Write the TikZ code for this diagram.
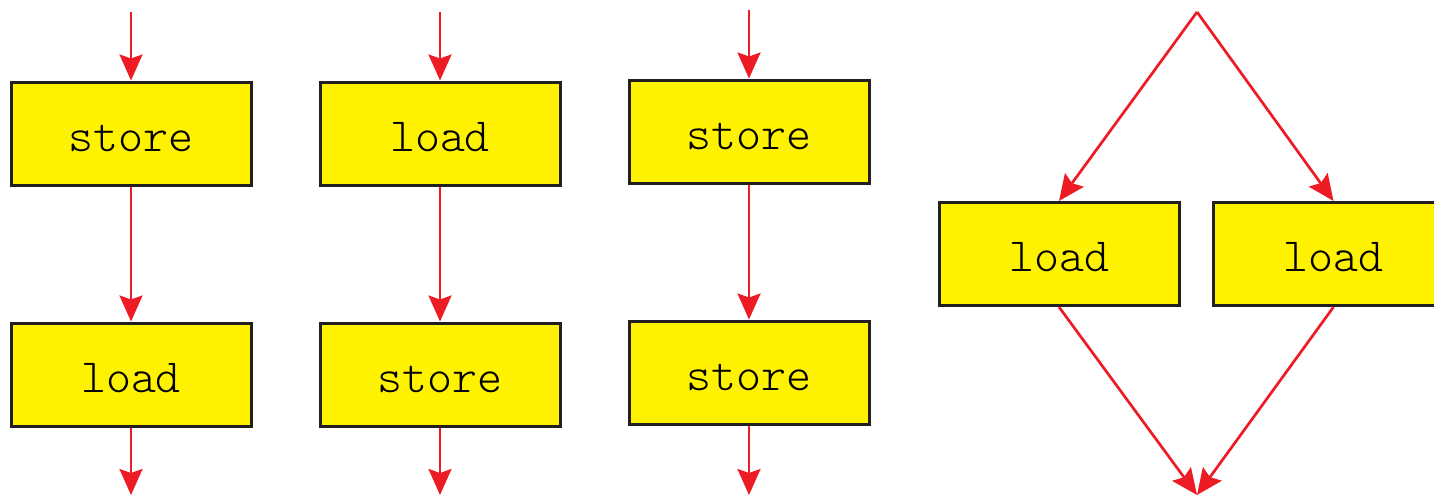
\documentclass[tikz,border=0pt]{standalone}
\usepackage{fontspec}
\newfontfamily\lightmono{Latin Modern Mono Light}
\usetikzlibrary{arrows.meta}
\definecolor{arrred}{RGB}{237,28,36}
\definecolor{boxyellow}{RGB}{255,242,0}
\definecolor{boxline}{RGB}{35,31,32}
\tikzset{
  opbox/.style={draw=boxline, fill=boxyellow, line width=3pt, rectangle,
    minimum width=240pt, minimum height=103pt, inner sep=0pt,
    text height=35pt, text depth=0pt,
    font=\fontsize{47.6}{54}\selectfont\lightmono},
  flow/.style={draw=arrred, line width=2.7pt,
    -{Stealth[length=26pt,width=23pt,inset=4pt]}}
}
\begin{document}
\begin{tikzpicture}[x=1pt,y=-1pt]
\useasboundingbox (0,0) rectangle (1434,496);
% column 1
\coordinate (s1) at (131,12);
\coordinate (e1) at (131,495);
\node[opbox] (a1) at (131,133.5) {store};
\node[opbox] (b1) at (131,374.5) {load};
% column 2
\coordinate (s2) at (440,12);
\coordinate (e2) at (440,495);
\node[opbox] (a2) at (440,133.5) {load};
\node[opbox] (b2) at (440,374.5) {store};
% column 3
\coordinate (s3) at (749,10);
\coordinate (e3) at (749,495);
\node[opbox] (a3) at (749,131.5) {store};
\node[opbox] (b3) at (749,372.5) {store};
% right
\coordinate (top) at (1197,12);
\coordinate (bot) at (1197,495);
\node[opbox] (L) at (1059,254) {load};
\node[opbox] (R) at (1333.5,254) {load};

\draw[flow] (s1) -- (a1.north);
\draw[flow] (a1.south) -- (b1.north);
\draw[flow] (b1.south) -- (e1);
\draw[flow] (s2) -- (a2.north);
\draw[flow] (a2.south) -- (b2.north);
\draw[flow] (b2.south) -- (e2);
\draw[flow] (s3) -- (a3.north);
\draw[flow] (a3.south) -- (b3.north);
\draw[flow] (b3.south) -- (e3);
\draw[flow] (top) -- (L.north);
\draw[flow] (top) -- (R.north);
\draw[flow] (L.south) -- (bot);
\draw[flow] (R.south) -- (bot);
\end{tikzpicture}
\end{document}
